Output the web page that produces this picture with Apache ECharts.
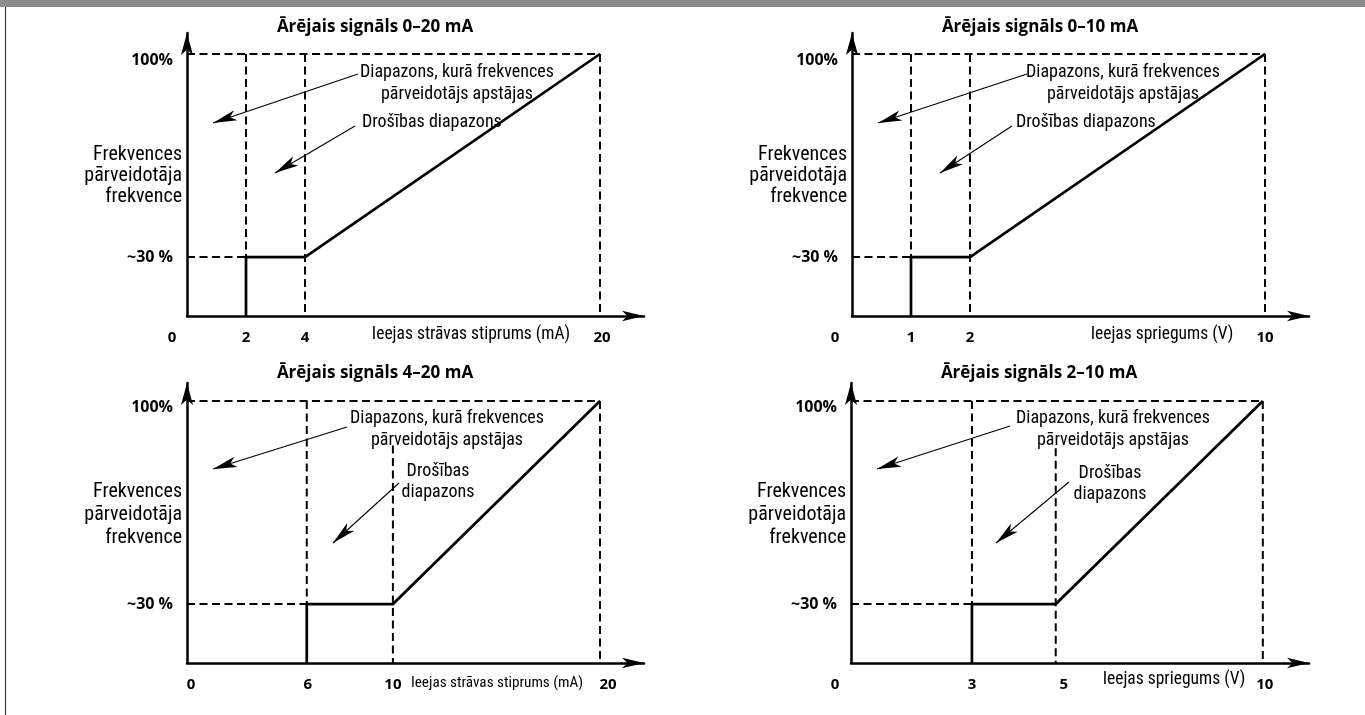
<!DOCTYPE html>
<html>
<head>
<meta charset="utf-8">
<title>Ārējais signāls</title>
<script src="https://cdn.jsdelivr.net/npm/echarts@6/dist/echarts.min.js"></script>
<style>
  html, body { margin: 0; background: #fff; }
  #main { width: 1365px; height: 715px; }
</style>
</head>
<body>
<div id="main"></div>
<script>
// panel order: top-left, top-right, bottom-left, bottom-right
const titles = ['Ārējais signāls 0–20 mA', 'Ārējais signāls 0–10 mA', 'Ārējais signāls 4–20 mA', 'Ārējais signāls 2–10 mA'];
const xNames = ['Ieejas strāvas stiprums (mA)', 'Ieejas spriegums (V)', 'Ieejas strāvas stiprums (mA)', 'Ieejas spriegums (V)'];
// x tick labels and where each sits on the input axis (the drawing is not to scale)
const xTickLabels = [['0', '2', '4', '20'], ['0', '1', '2', '10'], ['0', '6', '10', '20'], ['0', '3', '5', '10']];
const xTickPos = [[0, 1, 2, 7], [0, 1, 2, 7], [0, 2.03, 3.49, 7], [0, 2.05, 3.47, 6.98]];
// frequency levels: minimum (~30 %) and maximum (100%), schematic heights
const yTickLabels = ['~30 %', '100%'];
const yTickPos = [22.5, 100];
// top end of the dashed guide at the 2nd x tick
const guideTop = [100, 100, 83, 82];
const yName = 'Frekvences\npārveidotāja\nfrekvence';
const noteStop = 'Diapazons, kurā frekvences\npārveidotājs apstājas';
const noteSafe = ['Drošības diapazons', 'Drošības diapazons', 'Drošības\ndiapazons', 'Drošības\ndiapazons'];

// ---- layout (pixels) ----
const ox = [187, 852, 187, 851];   // axis origin x
const oy = [316, 316, 663, 663];   // axis origin y
const gw = [457, 457, 457, 458];
const gh = [283, 283, 280, 280];
const PX_X = 59, PX_Y = 2.62;
const xNudge = [[-15, 0, 0, 2], [-17, 0, 0, 0], [4, 1, 0, 8], [-16, 0, 8, 2]];
const titlePos = [[188, -289], [188, -289], [188, -290], [188, -290]];
const xNamePos = [[284, 19], [310, 19], [310, 20], [323, 17]];
const xNameSize = [17.5, 17.5, 15.2, 17.5];
const yNameMid = [-140, -140, -148, -148];
const yNameLh = [21, 21, 23, 23];
const noteStopPos = [[270, -233], [271, -233], [260, -234], [262, -234]];
const noteSafePos = [[175, -194], [164, -194], [251, -181], [259, -179]];
// annotation arrows: [start, tip] relative to origin
const arrowsPx = [
  [[[171, -242], [26, -193]], [[168, -190], [88, -143]]],
  [[[175, -242], [26, -193]], [[160, -190], [88, -143]]],
  [[[160, -236], [26, -194]], [[212, -180], [146, -120]]],
  [[[159, -237], [26, -194]], [[218, -181], [145, -120]]]
];

const FONT_C = '"Roboto Condensed", "Noto Sans", sans-serif';
const FONT_B = '"Open Sans", "Noto Sans", sans-serif';

const chart = echarts.init(document.getElementById('main'));

const grids = [], xAxes = [], yAxes = [], series = [], graphic = [];

graphic.push({ type: 'rect', shape: { x: 0, y: 0, width: 1365, height: 7 }, style: { fill: '#8c8c8c' }, silent: true });
graphic.push({ type: 'line', shape: { x1: 5.5, y1: 7, x2: 5.5, y2: 715 }, style: { stroke: '#3a3a3a', lineWidth: 1.2 }, silent: true });

function toAxis(p) {
  return [p[0] / PX_X, -p[1] / PX_Y];
}

for (let i = 0; i < 4; i++) {
  const xMax = gw[i] / PX_X;
  const yMax = gh[i] / PX_Y;
  grids.push({ left: ox[i], top: oy[i] - gh[i], width: gw[i], height: gh[i], containLabel: false, outerBoundsMode: 'none' });

  const richX = {};
  xTickLabels[i].forEach(function (t, k) {
    const n = xNudge[i][k];
    richX['t' + k] = {
      fontFamily: FONT_B, fontWeight: 'bold', fontSize: 15, color: '#000',
      padding: [0, n < 0 ? -2 * n : 0, 0, n > 0 ? 2 * n : 0]
    };
  });
  xAxes.push({
    type: 'value', gridIndex: i, min: 0, max: xMax,
    splitLine: { show: false }, axisTick: { show: false },
    axisLine: { show: true, onZero: false, symbol: ['none', 'arrow'], symbolSize: [8, 22], lineStyle: { color: '#000', width: 2.5 } },
    axisLabel: {
      customValues: xTickPos[i], margin: 14,
      formatter: function (v) {
        const k = xTickPos[i].findIndex(function (p) { return Math.abs(p - v) < 1e-6; });
        return k < 0 ? '' : '{t' + k + '|' + xTickLabels[i][k] + '}';
      },
      rich: richX
    }
  });
  yAxes.push({
    type: 'value', gridIndex: i, min: 0, max: yMax,
    splitLine: { show: false }, axisTick: { show: false },
    axisLine: { show: true, onZero: false, symbol: ['none', 'arrow'], symbolSize: [9, 22], lineStyle: { color: '#000', width: 2.5 } },
    axisLabel: {
      customValues: yTickPos, margin: 14,
      formatter: function (v) {
        return v > 50 ? '{hi|' + yTickLabels[1] + '}' : '{lo|' + yTickLabels[0] + '}';
      },
      rich: {
        hi: { fontFamily: FONT_B, fontWeight: 'bold', fontSize: 16, color: '#000', padding: [12, 0, 0, 0] },
        lo: { fontFamily: FONT_B, fontWeight: 'bold', fontSize: 16, color: '#000' }
      }
    }
  });

  const x1 = xTickPos[i][1], x2 = xTickPos[i][2], x3 = xTickPos[i][3];
  const lo = yTickPos[0], hi = yTickPos[1];
  const dashed = [
    [[0, hi], [x3, hi]],
    [[0, lo], [x1, lo]],
    [[x1, hi], [x1, lo]],
    [[x2, guideTop[i]], [x2, 0]],
    [[x3, hi], [x3, 0]]
  ];
  dashed.forEach(function (seg) {
    series.push({
      type: 'line', xAxisIndex: i, yAxisIndex: i, data: seg, symbol: 'none', silent: true,
      lineStyle: { color: '#000', width: 2, type: [8, 4.5] }
    });
  });

  // annotation arrows (the arrow tip lands on the end point)
  const marks = arrowsPx[i].map(function (a) {
    return [{ coord: toAxis(a[0]) }, { coord: toAxis(a[1]) }];
  });

  series.push({
    type: 'line', xAxisIndex: i, yAxisIndex: i, symbol: 'none', silent: true,
    data: [[x1, 0], [x1, lo], [x2, lo], [x3, hi]],
    lineStyle: { color: '#000', width: 2.7, join: 'miter', cap: 'butt' },
    markLine: {
      silent: true, symbol: ['none', 'arrow'], symbolSize: [8, 24],
      label: { show: false },
      lineStyle: { color: '#000', width: 1.1, type: 'solid' },
      emphasis: { disabled: true },
      data: marks
    }
  });

  // texts
  graphic.push({
    type: 'text', x: ox[i] + titlePos[i][0], y: oy[i] + titlePos[i][1], silent: true,
    style: { text: titles[i], fill: '#000', font: 'bold 17px ' + FONT_B, align: 'center', verticalAlign: 'middle' }
  });
  graphic.push({
    type: 'text', x: ox[i] + xNamePos[i][0], y: oy[i] + xNamePos[i][1], silent: true,
    style: { text: xNames[i], fill: '#000', font: xNameSize[i] + 'px ' + FONT_C, align: 'center', verticalAlign: 'middle' }
  });
  graphic.push({
    type: 'text', x: ox[i] - 5, y: oy[i] + yNameMid[i], silent: true,
    style: { text: yName, fill: '#000', font: '20px ' + FONT_C, lineHeight: yNameLh[i], align: 'right', verticalAlign: 'middle' }
  });
  graphic.push({
    type: 'text', x: ox[i] + noteStopPos[i][0], y: oy[i] + noteStopPos[i][1], silent: true,
    style: { text: noteStop, fill: '#000', font: '18px ' + FONT_C, lineHeight: 22, align: 'center', verticalAlign: 'middle' }
  });
  const oneLine = noteSafe[i].indexOf('\n') < 0;
  graphic.push({
    type: 'text', x: ox[i] + noteSafePos[i][0], y: oy[i] + noteSafePos[i][1], silent: true,
    style: { text: noteSafe[i], fill: '#000', font: '18px ' + FONT_C, lineHeight: 21, align: oneLine ? 'left' : 'center', verticalAlign: 'middle' }
  });
}

chart.setOption({
  animation: false,
  backgroundColor: '#fff',
  grid: grids,
  xAxis: xAxes,
  yAxis: yAxes,
  series: series,
  graphic: graphic
});
</script>
</body>
</html>
